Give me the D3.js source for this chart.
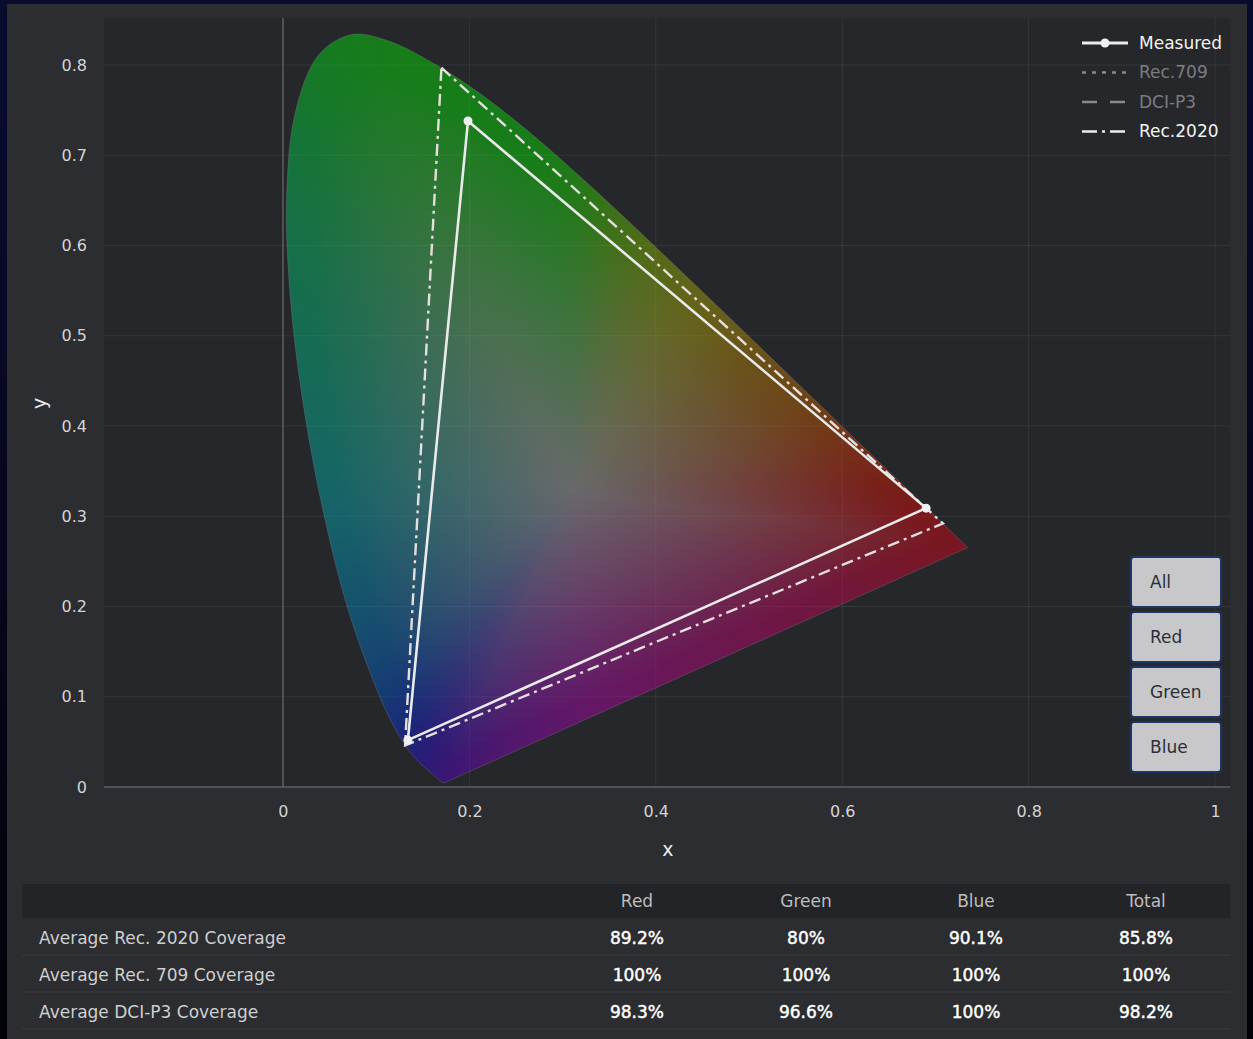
<!DOCTYPE html>
<html><head><meta charset="utf-8">
<script src="https://cdn.jsdelivr.net/npm/d3@7"></script>
<style>
html,body{margin:0;padding:0;background:#06061a;}
body{width:1253px;height:1039px;overflow:hidden;background:linear-gradient(180deg,#0a0c2e 0%,#05051a 60%,#020208 100%);}
svg{display:block;font-family:"DejaVu Sans",Verdana,sans-serif;}
</style></head>
<body>
<svg id="c" width="1253" height="1039"></svg>
<script>
// ---------- data ----------
// CIE 1931 2° spectral locus (x, y), 380–700 nm in 5 nm steps
const locusX = [0.1741,0.1740,0.1738,0.1736,0.1733,0.1730,0.1726,0.1721,0.1714,0.1703,0.1689,0.1669,0.1644,0.1611,0.1566,0.1510,0.1440,0.1355,0.1241,0.1096,0.0913,0.0687,0.0454,0.0235,0.0082,0.0039,0.0139,0.0389,0.0743,0.1142,0.1547,0.1929,0.2296,0.2658,0.3016,0.3373,0.3731,0.4087,0.4441,0.4788,0.5125,0.5448,0.5752,0.6029,0.6270,0.6482,0.6658,0.6801,0.6915,0.7006,0.7079,0.7140,0.7190,0.7230,0.7260,0.7283,0.7300,0.7311,0.7320,0.7327,0.7334,0.7340,0.7344,0.7346,0.7347];
const locusY = [0.0050,0.0050,0.0049,0.0049,0.0048,0.0048,0.0048,0.0048,0.0051,0.0058,0.0069,0.0086,0.0109,0.0138,0.0177,0.0227,0.0297,0.0399,0.0578,0.0868,0.1327,0.2007,0.2950,0.4127,0.5384,0.6548,0.7502,0.8120,0.8338,0.8262,0.8059,0.7816,0.7543,0.7243,0.6923,0.6589,0.6245,0.5896,0.5547,0.5202,0.4866,0.4544,0.4242,0.3965,0.3725,0.3514,0.3340,0.3197,0.3083,0.2993,0.2920,0.2859,0.2809,0.2770,0.2740,0.2717,0.2700,0.2689,0.2680,0.2673,0.2666,0.2660,0.2656,0.2654,0.2653];
const whitePoint = [0.3127, 0.3290];

// primaries order: Green, Red, Blue
const measuredX = [0.1985, 0.690, 0.134];
const measuredY = [0.738, 0.309, 0.052];
const rec2020X = [0.170, 0.708, 0.131];
const rec2020Y = [0.797, 0.292, 0.046];

const legendNames = ["Measured", "Rec.709", "DCI-P3", "Rec.2020"];
const legendVisible = [true, false, false, true];
const buttonLabels = ["All", "Red", "Green", "Blue"];

const xTicks = [0, 0.2, 0.4, 0.6, 0.8, 1];
const yTicks = [0, 0.1, 0.2, 0.3, 0.4, 0.5, 0.6, 0.7, 0.8];

const tableColumns = ["Red", "Green", "Blue", "Total"];
const tableRows = ["Average Rec. 2020 Coverage", "Average Rec. 709 Coverage", "Average DCI-P3 Coverage"];
const rec2020Cov = ["89.2%", "80%", "90.1%", "85.8%"];
const rec709Cov = ["100%", "100%", "100%", "100%"];
const dciP3Cov = ["98.3%", "96.6%", "100%", "98.2%"];
const tableValues = [rec2020Cov, rec709Cov, dciP3Cov];

// ---------- layout ----------
const svg = d3.select("#c");
const plotL = 104, plotR = 1230, plotT = 18, plotB = 787;
const x = d3.scaleLinear().domain([-0.192, 1.016]).range([plotL, plotR]);
const y = d3.scaleLinear().domain([0, 0.8508]).range([plotB, plotB - 0.8508 * 902.5]);

svg.append("rect").attr("x", 7).attr("y", 4).attr("width", 1240).attr("height", 1035).attr("fill", "#2b2d31");
svg.append("rect").attr("x", plotL).attr("y", plotT).attr("width", plotR - plotL).attr("height", plotB - plotT).attr("fill", "#25272b");

// grid
const grid = svg.append("g");
grid.selectAll("line.gy").data(yTicks.filter(d => d > 0)).enter().append("line")
  .attr("x1", plotL).attr("x2", plotR).attr("y1", d => y(d)).attr("y2", d => y(d))
  .attr("stroke", "#ffffff").attr("stroke-opacity", 0.07).attr("stroke-width", 1);
grid.selectAll("line.gx").data(xTicks.filter(d => d > 0)).enter().append("line")
  .attr("y1", plotT).attr("y2", plotB).attr("x1", d => x(d)).attr("x2", d => x(d))
  .attr("stroke", "#ffffff").attr("stroke-opacity", 0.07).attr("stroke-width", 1);

// locus (smooth spectral curve + straight line of purples)
const locus = locusX.map((v, i) => [v, locusY[i]]);
const locusPath = d3.line().x(d => x(d[0])).y(d => y(d[1])).curve(d3.curveCatmullRom.alpha(0.5))(locus) + "Z";
svg.append("defs").append("clipPath").attr("id", "lc").append("path").attr("d", locusPath);

const gam = v => v <= 0.0031308 ? 12.92 * v : 1.055 * Math.pow(v, 1 / 2.4) - 0.055;
function xyToRGB(cx, cy) {
  cy = Math.max(cy, 0.002);
  const X = cx / cy, Y = 1, Z = (1 - cx - cy) / cy;
  let r = Math.max(3.2406 * X - 1.5372 * Y - 0.4986 * Z, 0);
  let g = Math.max(-0.9689 * X + 1.8758 * Y + 0.0415 * Z, 0);
  let b = Math.max(0.0557 * X - 0.2040 * Y + 1.0570 * Z, 0);
  const m = Math.max(r, g, b, 1e-6);
  r = gam(r / m); g = gam(g / m); b = gam(b / m);
  const sum = r + g + b, mx = Math.max(r, g, b);
  const n = mx + 0.3 * (sum - mx);
  return [r / n, g / n, b / n];
}

// boundary distance + hue table by angle from white point
const NB = 1440;
const bound = new Float64Array(NB);
let hue = [];
for (let a = 0; a < NB; a++) {
  const th = a / NB * 2 * Math.PI, ux = Math.cos(th), uy = Math.sin(th);
  let best = Infinity;
  for (let i = 0; i < locus.length; i++) {
    const p = locus[i], q = locus[(i + 1) % locus.length];
    const ex = q[0] - p[0], ey = q[1] - p[1];
    const den = ux * ey - uy * ex;
    if (Math.abs(den) < 1e-12) continue;
    const wx = p[0] - whitePoint[0], wy = p[1] - whitePoint[1];
    const t = (wx * ey - wy * ex) / den;
    const s = (wx * uy - wy * ux) / den;
    if (t > 0 && s >= 0 && s <= 1 && t < best) best = t;
  }
  bound[a] = best;
  hue.push(xyToRGB(whitePoint[0] + ux * best * 0.97, whitePoint[1] + uy * best * 0.97));
}
// circular smoothing of hue
for (let pass = 0; pass < 3; pass++) {
  const R = 22, out = [];
  for (let a = 0; a < NB; a++) {
    let s0 = 0, s1 = 0, s2 = 0;
    for (let d = -R; d <= R; d++) { const h = hue[(a + d + NB) % NB]; s0 += h[0]; s1 += h[1]; s2 += h[2]; }
    const c = 2 * R + 1; out.push([s0 / c, s1 / c, s2 / c]);
  }
  hue = out;
}

const bx0 = Math.floor(x(-0.005)), bx1 = Math.ceil(x(0.745)), by0 = Math.floor(y(0.845)), by1 = Math.ceil(y(-0.003));
const W = bx1 - bx0, H = by1 - by0;
const cv = document.createElement("canvas");
cv.width = W; cv.height = H;
const ctx = cv.getContext("2d");
const img = ctx.createImageData(W, H);
for (let j = 0; j < H; j++) {
  const cy = y.invert(by0 + j + 0.5);
  for (let i = 0; i < W; i++) {
    const cx = x.invert(bx0 + i + 0.5);
    const dx = cx - whitePoint[0], dy = cy - whitePoint[1];
    let th = Math.atan2(dy, dx); if (th < 0) th += 2 * Math.PI;
    const ai = Math.floor(th / (2 * Math.PI) * NB) % NB;
    const tt = Math.min(1, Math.hypot(dx, dy) / bound[ai]);
    const s = Math.min(1, 1.08 * tt);
    const h = hue[ai], wl = 0.8;
    const k = (j * W + i) * 4;
    img.data[k] = (wl * (1 - s) + h[0] * s) * 255;
    img.data[k + 1] = (wl * (1 - s) + h[1] * s) * 255;
    img.data[k + 2] = (wl * (1 - s) + h[2] * s) * 255;
    img.data[k + 3] = 255;
  }
}
ctx.putImageData(img, 0, 0);
svg.append("image").attr("href", cv.toDataURL()).attr("x", bx0).attr("y", by0)
  .attr("width", W).attr("height", H).attr("clip-path", "url(#lc)").attr("opacity", 0.4);
svg.append("path").attr("d", locusPath).attr("fill", "none").attr("stroke", "#888").attr("stroke-opacity", 0.3).attr("stroke-width", 1);

// zero lines
svg.append("line").attr("x1", x(0)).attr("x2", x(0)).attr("y1", plotT).attr("y2", plotB)
  .attr("stroke", "#5d6064").attr("stroke-width", 1.5);
svg.append("line").attr("x1", plotL).attr("x2", plotR).attr("y1", y(0)).attr("y2", y(0))
  .attr("stroke", "#5d6064").attr("stroke-width", 1.5);

// axes
const xAxis = svg.append("g").attr("transform", `translate(0,${plotB + 24})`)
  .call(d3.axisBottom(x).tickValues(xTicks).tickSize(0).tickFormat(d => d3.format("~g")(d)));
const yAxis = svg.append("g").attr("transform", `translate(${plotL - 14},0)`)
  .call(d3.axisLeft(y).tickValues(yTicks).tickSize(0).tickFormat(d => d3.format("~g")(d)));
[xAxis, yAxis].forEach(a => {
  a.select(".domain").remove();
  a.selectAll("text").attr("fill", "#d4d4d4").attr("font-size", 16).attr("font-family", "DejaVu Sans, Verdana, sans-serif");
});
xAxis.selectAll("text").attr("dy", "0.35em").attr("y", 0);
svg.append("text").attr("x", x(0.413)).attr("y", 856).attr("text-anchor", "middle").attr("fill", "#eee").attr("font-size", 19).text("x");
svg.append("text").attr("transform", `translate(46,${y(0.425)}) rotate(-90)`).attr("text-anchor", "middle").attr("fill", "#eee").attr("font-size", 19).text("y");

// Rec.2020 triangle (dash-dot)
const tri = (xs, ys) => d3.line().x(d => x(d[0])).y(d => y(d[1])).curve(d3.curveLinearClosed)(xs.map((v, i) => [v, ys[i]]));
svg.append("path").attr("d", tri(rec2020X, rec2020Y)).attr("fill", "none").attr("stroke", "#e6dfdf")
  .attr("stroke-width", 2.4).attr("stroke-dasharray", "12,5,3,5");
// Measured
svg.append("path").attr("d", tri(measuredX, measuredY)).attr("fill", "none").attr("stroke", "#ebebeb")
  .attr("stroke-width", 2.6).attr("stroke-linejoin", "round");
svg.selectAll("circle.m").data(measuredX).enter().append("circle")
  .attr("cx", d => x(d)).attr("cy", (d, i) => y(measuredY[i])).attr("r", 4.5).attr("fill", "#f0f0f0");

// legend
const lg = svg.append("g").attr("transform", "translate(1082,43)");
const dashes = [null, "4,6", "15,13", "15,5,3,5"];
legendNames.forEach((n, i) => {
  const g = lg.append("g").attr("transform", `translate(0,${i * 29.5})`).attr("opacity", legendVisible[i] ? 1 : 0.5);
  g.append("line").attr("x1", 0).attr("x2", 46).attr("y1", 0).attr("y2", 0)
    .attr("stroke", "#ececec").attr("stroke-width", i === 0 ? 2.8 : 2.4).attr("stroke-dasharray", dashes[i]);
  if (i === 0) g.append("circle").attr("cx", 23).attr("cy", 0).attr("r", 4.5).attr("fill", "#f0f0f0");
  g.append("text").attr("x", 57).attr("y", 0).attr("dy", "0.35em").attr("fill", legendVisible[i] ? "#f2f2f2" : "#cfcfcf")
    .attr("font-size", 17).text(n);
});

// buttons
const bg = svg.append("g");
buttonLabels.forEach((b, i) => {
  const top = 557 + i * 55;
  bg.append("rect").attr("x", 1131).attr("y", top).attr("width", 90).attr("height", 50).attr("rx", 3)
    .attr("fill", "#c8c8ca").attr("stroke", "#1e3566").attr("stroke-width", 2);
  bg.append("text").attr("x", 1150).attr("y", top + 25).attr("dy", "0.35em").attr("fill", "#2c2f36")
    .attr("font-size", 17).text(b);
});

// table
const tb = svg.append("g");
const colX = [637, 806, 976, 1146];
tb.append("rect").attr("x", 22).attr("y", 884).attr("width", 1208).attr("height", 34).attr("fill", "#222428");
tableColumns.forEach((c, i) => {
  tb.append("text").attr("x", colX[i]).attr("y", 901).attr("dy", "0.35em").attr("text-anchor", "middle")
    .attr("fill", "#bdbdbd").attr("font-size", 17).text(c);
});
tableRows.forEach((r, ri) => {
  const top = 918 + ri * 37;
  tb.append("line").attr("x1", 22).attr("x2", 1230).attr("y1", top + 37).attr("y2", top + 37)
    .attr("stroke", "#3a3c41").attr("stroke-width", 1);
  tb.append("text").attr("x", 39).attr("y", top + 20).attr("dy", "0.35em").attr("fill", "#cfcfcf")
    .attr("font-size", 17).text(r);
  tableValues[ri].forEach((v, ci) => {
    tb.append("text").attr("x", colX[ci]).attr("y", top + 20).attr("dy", "0.35em").attr("text-anchor", "middle")
      .attr("fill", "#ffffff").attr("stroke", "#ffffff").attr("stroke-width", 0.45).attr("font-size", 17).text(v);
  });
});
</script>
</body></html>
